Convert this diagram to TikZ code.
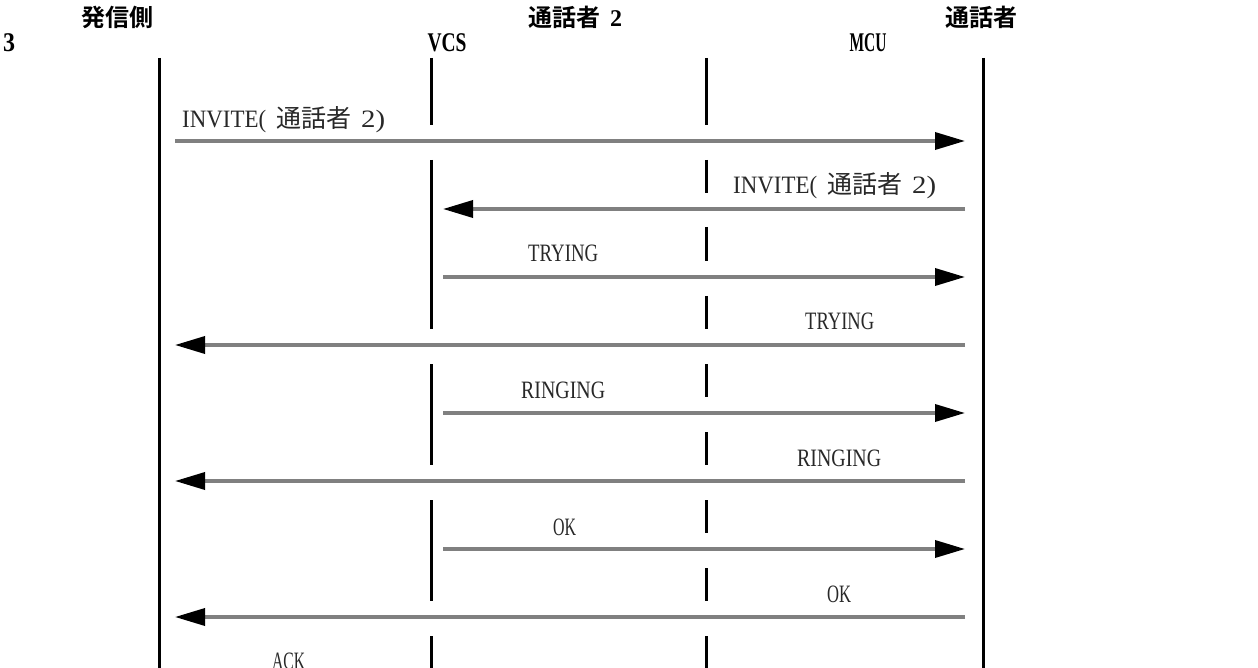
\documentclass[tikz,border=0pt]{standalone}
\usepackage{fontspec}
\usepackage{xfp}
\setmainfont{Liberation Serif}
\newfontfamily\cjk{Noto Sans CJK JP}[BoldFont={Noto Sans CJK JP Bold}]
\usetikzlibrary{arrows.meta}
\definecolor{msggray}{RGB}{128,128,128}
\definecolor{lblgray}{RGB}{40,40,40}
\newlength\fwlen
\newcommand\fitw[2]{\settowidth\fwlen{#2}\edef\fwr{\fpeval{(#1)/\fwlen}}\scalebox{\fwr}[1]{#2}}
\newcommand\widesp{\spaceskip=10pt\relax}
\begin{document}
\begin{tikzpicture}[x=1pt,y=-1pt,
  life/.style={line width=3pt,draw=black},
  msg/.style={line width=3.5pt,draw=msggray,-{Triangle[length=30pt,width=17pt,color=black]}},
  hdr/.style={inner sep=0pt,text=black},
  lbl/.style={inner sep=0pt,anchor=base west,text=lblgray,font=\fontsize{25}{25}\selectfont}]
\useasboundingbox (0,0) rectangle (1258,668);
\fill[white] (0,0) rectangle (1258,668);

% headers
\node[hdr] (hA) at (117,17) {\fontsize{24}{24}\selectfont\cjk\bfseries 発信側};
\node[hdr,anchor=base west] (hA2) at (3,52) {\fontsize{27}{27}\selectfont\bfseries\fitw{12pt}{3}};
\node[hdr] (hB) at (575,17) {\fontsize{24}{24}\selectfont{\cjk\bfseries 通話者}\hspace{10pt}\bfseries 2};
\node[hdr,anchor=base] (hB2) at (447,52) {\fontsize{27}{27}\selectfont\bfseries\fitw{39pt}{VCS}};
\node[hdr] (hC) at (981,17) {\fontsize{24}{24}\selectfont\cjk\bfseries 通話者};
\node[hdr,anchor=base] (hC2) at (868,52) {\fontsize{27}{27}\selectfont\bfseries\fitw{37pt}{MCU}};

% outer lifelines
\coordinate (Lt) at (159,58); \coordinate (Lb) at (159,668);
\coordinate (Rt) at (983,58); \coordinate (Rb) at (983,668);
\draw[life] (Lt) -- (Lb);
\draw[life] (Rt) -- (Rb);

% VCS lifeline (broken)
\foreach \t/\b [count=\i] in {58/125,160/329,364/465,500/601,636/668}{
  \coordinate (v\i t) at (431,\t); \coordinate (v\i b) at (431,\b);
  \draw[life] (v\i t) -- (v\i b);
}
% third lifeline (broken)
\foreach \t/\b [count=\i] in {58/125,160/193,227/261,296/329,364/397,432/465,500/533,568/601,636/668}{
  \coordinate (m\i t) at (706,\t); \coordinate (m\i b) at (706,\b);
  \draw[life] (m\i t) -- (m\i b);
}

% message end points
\coordinate (a1s) at (175,141); \coordinate (a1e) at (965,141);
\coordinate (a2s) at (965,209); \coordinate (a2e) at (443,209);
\coordinate (a3s) at (443,277); \coordinate (a3e) at (965,277);
\coordinate (a4s) at (965,345); \coordinate (a4e) at (175,345);
\coordinate (a5s) at (443,413); \coordinate (a5e) at (965,413);
\coordinate (a6s) at (965,481); \coordinate (a6e) at (175,481);
\coordinate (a7s) at (443,549); \coordinate (a7e) at (965,549);
\coordinate (a8s) at (965,617); \coordinate (a8e) at (175,617);
\foreach \i in {1,...,8}{\draw[msg] (a\i s) -- (a\i e);}

% labels
\node[lbl] (t1) at (182,128) {\widesp\fitw{84pt}{INVITE(} {\cjk 通話者} \fitw{24pt}{2)}};
\node[lbl] (t2) at (733,194) {\widesp\fitw{84pt}{INVITE(} {\cjk 通話者} \fitw{24pt}{2)}};
\node[lbl] (t3) at (528,262) {\fitw{70pt}{TRYING}};
\node[lbl] (t4) at (805,330) {\fitw{69pt}{TRYING}};
\node[lbl] (t5) at (521,398) {\fitw{84pt}{RINGING}};
\node[lbl] (t6) at (797,466) {\fitw{84pt}{RINGING}};
\node[lbl] (t7) at (553,535) {\fitw{23pt}{OK}};
\node[lbl] (t8) at (827,602) {\fitw{24pt}{OK}};
\node[lbl] (t9) at (272,669) {\fitw{33pt}{ACK}};
\end{tikzpicture}
\end{document}
